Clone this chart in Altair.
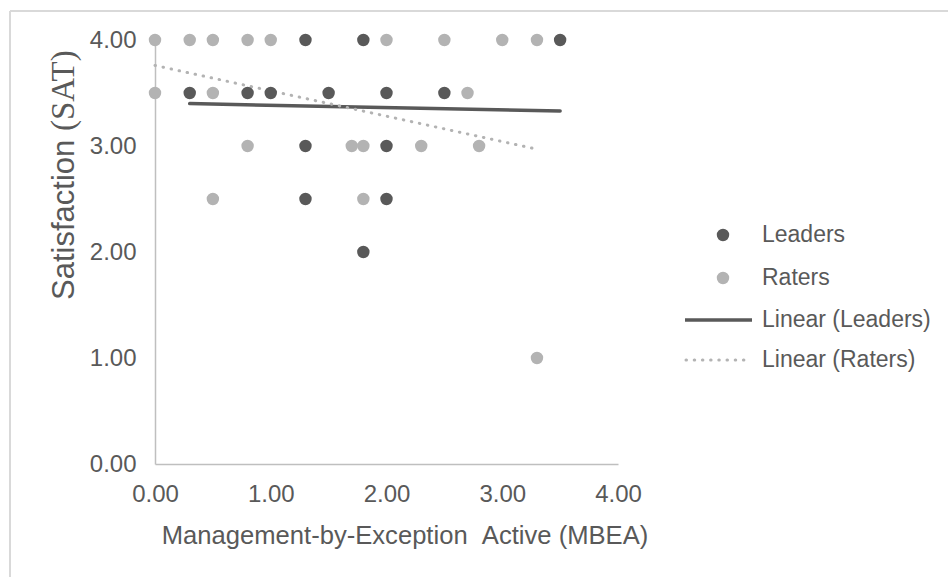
import altair as alt
import pandas as pd

# ---- data ----
leaders_x = [1.3, 1.8, 3.5, 0.3, 0.8, 1.0, 1.5, 2.0, 2.5, 1.3, 2.0, 1.3, 2.0, 1.8]
leaders_y = [4.0, 4.0, 4.0, 3.5, 3.5, 3.5, 3.5, 3.5, 3.5, 3.0, 3.0, 2.5, 2.5, 2.0]

raters_x = [0.0, 0.3, 0.5, 0.8, 1.0, 2.0, 2.5, 3.0, 3.3,
            0.0, 0.5, 2.7,
            0.8, 1.7, 1.8, 2.3, 2.8,
            0.5, 1.8,
            3.3]
raters_y = [4.0, 4.0, 4.0, 4.0, 4.0, 4.0, 4.0, 4.0, 4.0,
            3.5, 3.5, 3.5,
            3.0, 3.0, 3.0, 3.0, 3.0,
            2.5, 2.5,
            1.0]

# linear trendlines (end points)
trend_leaders_x = [0.3, 3.5]
trend_leaders_y = [3.40, 3.33]
trend_raters_x = [0.0, 3.3]
trend_raters_y = [3.76, 2.97]

x_ticks = [0, 1, 2, 3, 4]
y_ticks = [0, 1, 2, 3, 4]
legend_labels = ["Leaders", "Raters", "Linear (Leaders)", "Linear (Raters)"]
x_title = "Management-by-Exception \u00a0Active (MBEA)"
y_title_main = "Satisfaction"
y_title_abbr = "(SAT)"

# ---- styling ----
DARK = "#595959"
LIGHT = "#b3b3b3"
AXIS = "#bfbfbf"
TEXT = "#595959"
FONT = "Liberation Sans"
W, H = 463, 424
PL, PT = 155, 40

leaders_df = pd.DataFrame({"x": leaders_x, "y": leaders_y})
raters_df = pd.DataFrame({"x": raters_x, "y": raters_y})
tl_df = pd.DataFrame({"x": trend_leaders_x, "y": trend_leaders_y})
tr_df = pd.DataFrame({"x": trend_raters_x, "y": trend_raters_y})

xs = alt.Scale(domain=[0, 4], nice=False, zero=False)
ys = alt.Scale(domain=[0, 4], nice=False, zero=False)

x_axis = alt.Axis(values=x_ticks, format=".2f", title=None, grid=False, ticks=False,
                  domainColor=AXIS, domainWidth=1.5, labelFont=FONT, labelFontSize=24,
                  labelColor=TEXT, labelPadding=18, labelFlush=False, labelOverlap=False)
y_axis = alt.Axis(values=y_ticks, format=".2f", title=None, grid=False, ticks=False,
                  domainColor=AXIS, domainWidth=1.5, labelFont=FONT, labelFontSize=24,
                  labelColor=TEXT, labelPadding=19, labelOverlap=False)

base_axes = alt.Chart(leaders_df).mark_point(opacity=0).encode(
    x=alt.X("x:Q", scale=xs, axis=x_axis),
    y=alt.Y("y:Q", scale=ys, axis=y_axis),
)

pts_leaders = alt.Chart(leaders_df).mark_circle(size=154, opacity=1, color=DARK).encode(
    x=alt.X("x:Q", scale=xs), y=alt.Y("y:Q", scale=ys))
pts_raters = alt.Chart(raters_df).mark_circle(size=154, opacity=1, color=LIGHT).encode(
    x=alt.X("x:Q", scale=xs), y=alt.Y("y:Q", scale=ys))

line_leaders = alt.Chart(tl_df).mark_line(color=DARK, strokeWidth=3.5, strokeCap="round").encode(
    x=alt.X("x:Q", scale=xs), y=alt.Y("y:Q", scale=ys))
line_raters = alt.Chart(tr_df).mark_line(color=LIGHT, strokeWidth=3, strokeCap="round",
                                         strokeDash=[0.5, 7.7]).encode(
    x=alt.X("x:Q", scale=xs), y=alt.Y("y:Q", scale=ys))

one = pd.DataFrame({"k": [0]})

# ---- legend (manual) ----
leg_sym_x = 723 - PL
leg_txt_x = 762 - PL
leg_rows = [235 - PT, 278 - PT, 320 - PT, 360 - PT]

legend_layers = [
    alt.Chart(one).mark_circle(size=154, opacity=1, color=DARK).encode(
        x=alt.value(leg_sym_x), y=alt.value(leg_rows[0])),
    alt.Chart(one).mark_circle(size=154, opacity=1, color=LIGHT).encode(
        x=alt.value(leg_sym_x), y=alt.value(leg_rows[1])),
    alt.Chart(one).mark_rule(color=DARK, strokeWidth=3.5).encode(
        x=alt.value(685 - PL), x2=alt.value(752 - PL), y=alt.value(leg_rows[2])),
    alt.Chart(one).mark_rule(color=LIGHT, strokeWidth=3, strokeCap="round",
                             strokeDash=[0.5, 7.7]).encode(
        x=alt.value(686 - PL), x2=alt.value(748 - PL), y=alt.value(leg_rows[3])),
]
for lab, yy in zip(legend_labels, leg_rows):
    legend_layers.append(
        alt.Chart(one).mark_text(text=lab, align="left", baseline="middle", font=FONT,
                                 fontSize=23, color=TEXT).encode(
            x=alt.value(leg_txt_x), y=alt.value(yy)))

# ---- titles ----
xtitle = alt.Chart(one).mark_text(text=x_title, align="center", baseline="middle", font=FONT,
                                  fontSize=25.6, color=TEXT).encode(
    x=alt.value(405 - PL), y=alt.value(536 - PT))
ytitle_main = alt.Chart(one).mark_text(text=y_title_main, align="left", baseline="alphabetic",
                                       angle=270, font=FONT, fontSize=31, color=TEXT).encode(
    x=alt.value(74 - PL), y=alt.value(300 - PT))
ytitle_abbr = alt.Chart(one).mark_text(text=y_title_abbr, align="left", baseline="alphabetic",
                                       angle=270, font="Liberation Serif", fontSize=33,
                                       color=TEXT).encode(
    x=alt.value(74 - PL), y=alt.value(131 - PT))

# ---- outer frame (top and left edges visible) ----
frame_top = alt.Chart(one).mark_rule(color="#d9d9d9", strokeWidth=2).encode(
    x=alt.value(10 - PL), x2=alt.value(948 - PL), y=alt.value(11 - PT))
frame_left = alt.Chart(one).mark_rule(color="#d9d9d9", strokeWidth=2).encode(
    x=alt.value(10 - PL), y=alt.value(11 - PT), y2=alt.value(577 - PT))

chart = alt.layer(
    frame_top, frame_left, base_axes,
    line_leaders, line_raters, pts_leaders, pts_raters,
    *legend_layers, xtitle, ytitle_main, ytitle_abbr,
).properties(
    width=W, height=H,
    autosize=alt.AutoSizeParams(type="none"),
    padding={"left": PL, "top": PT, "right": 948 - PL - W, "bottom": 577 - PT - H},
    background="white",
).configure_view(stroke=None)

chart.save("out.html", embed_options={"renderer": "svg", "actions": False})
